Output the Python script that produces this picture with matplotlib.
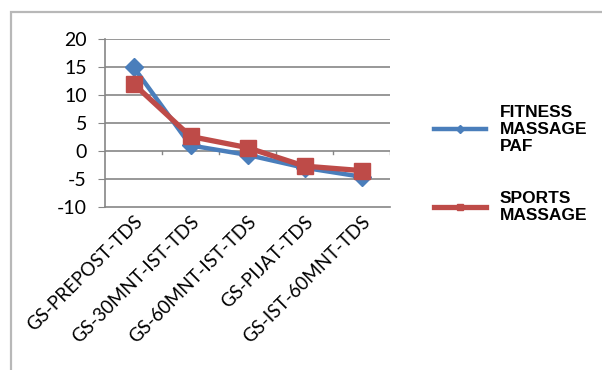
import matplotlib.pyplot as plt
from matplotlib.patches import Rectangle

plt.rcParams["axes.unicode_minus"] = False

categories = ["GS-PREPOST-TDS", "GS-30MNT-IST-TDS", "GS-60MNT-IST-TDS",
              "GS-PIJAT-TDS", "GS-IST-60MNT-TDS"]
fitness = [15, 1, -0.7, -3, -4.6]
sports = [12, 2.6, 0.6, -2.7, -3.5]
series_names = ["FITNESS\nMASSAGE\nPAF", "SPORTS\nMASSAGE"]

W, H = 602, 370
fig = plt.figure(figsize=(W / 100, H / 100), dpi=100)

# outer chart frame (cut off at right and bottom)
fig.add_artist(Rectangle((11 / W, -0.1), 1.2, 1 - 12 / H + 0.1,
                         transform=fig.transFigure, fill=False,
                         edgecolor="#b8b8b8", linewidth=1.6))

ax = fig.add_axes([105 / W, 1 - 207 / H, 285 / W, 168 / H])
x = range(len(categories))
ax.plot(x, fitness, color="#4a7ebb", linewidth=3.2, marker="D", markersize=9,
        label=series_names[0], zorder=3)
ax.plot(x, sports, color="#be4b48", linewidth=3.8, marker="s", markersize=12,
        label=series_names[1], zorder=4)

ax.set_xlim(-0.5, len(categories) - 0.5)
ax.set_ylim(-10, 20)
ax.set_yticks(range(-10, 21, 5))
for v in range(-5, 21, 5):
    ax.axhline(v, color="#868686", linewidth=1.2, zorder=1)
# category tick marks on the zero line
for b in range(1, len(categories) + 1):
    ax.plot([b - 0.5, b - 0.5], [0, -0.6], color="#868686", linewidth=1, zorder=1)

for s in ["top", "right"]:
    ax.spines[s].set_visible(False)
for s in ["left", "bottom"]:
    ax.spines[s].set_color("#868686")
    ax.spines[s].set_linewidth(1.2)
ax.tick_params(axis="y", length=5, color="#868686", labelsize=14, pad=8)
ax.tick_params(axis="x", length=0, pad=4)
for t in ax.get_yticklabels():
    t.set_family("Lato")

ax.set_xticks(list(x))
ax.set_xticklabels(categories, rotation=45, ha="right", rotation_mode="anchor",
                   fontsize=13.5, family="Lato")

fig.legend(loc="upper left", bbox_to_anchor=(418 / W, 1 - 89 / H),
           frameon=False, prop={"family": "Liberation Sans", "weight": "bold", "size": 12.5},
           handlelength=3.0, handletextpad=0.8, labelspacing=2.1, markerscale=0.4)

fig.savefig("out.png", dpi=100, facecolor="white")
